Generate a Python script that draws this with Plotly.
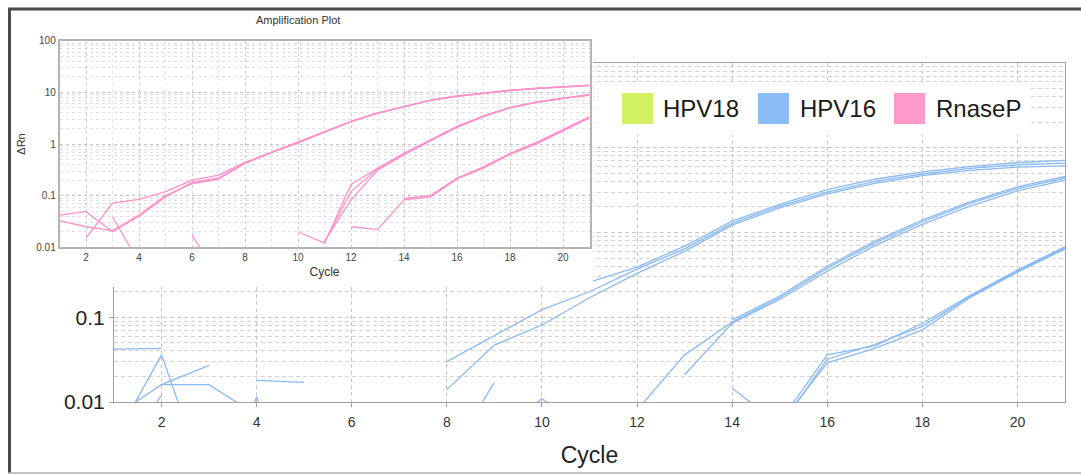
import plotly.graph_objects as go

W, H = 1081, 475
N = None

cycles = list(range(1, 22))

# ---- HPV16 (main chart) ΔRn values per cycle 1..21 ----
hpv16_a = [N, N, N, N, N, N, N, 0.030, 0.061, 0.123, 0.20, 0.37, 0.64, 1.28, 2.05, 3.0, 4.0, 4.9, 5.7, 6.3, 6.6]
hpv16_b = [N, N, N, N, N, N, N, 0.014, 0.047, 0.081, 0.17, 0.33, 0.60, 1.22, 1.95, 2.85, 3.8, 4.7, 5.4, 5.9, 6.1]
hpv16_c = [N, N, N, N, N, N, N, N, N, N, 0.26, 0.39, 0.69, 1.36, 2.15, 3.2, 4.25, 5.2, 6.0, 6.7, 7.1]
hpv16_d = [N, N, N, N, N, N, N, N, N, N, N, 0.008, 0.036, 0.088, 0.17, 0.38, 0.75, 1.33, 2.2, 3.3, 4.4]
hpv16_e = [N, N, N, N, N, N, N, N, N, N, N, N, 0.021, 0.085, 0.162, 0.35, 0.70, 1.25, 2.05, 3.1, 4.15]
hpv16_f = [N, N, N, N, N, N, N, N, N, N, N, N, N, 0.093, 0.178, 0.40, 0.79, 1.40, 2.3, 3.45, 4.6]
hpv16_g = [N, N, N, N, N, N, N, N, N, N, N, N, N, N, 0.0058, 0.036, 0.046, 0.085, 0.18, 0.36, 0.68]
hpv16_h = [N, N, N, N, N, N, N, N, N, N, N, N, N, N, 0.0055, 0.029, 0.043, 0.071, 0.17, 0.34, 0.64]
hpv16_i = [N, N, N, N, N, N, N, N, N, N, N, N, N, N, 0.0050, 0.032, 0.048, 0.078, 0.175, 0.35, 0.66]

# baseline noise fragments (HPV16)
hpv16_n1 = [0.042, 0.043, N, N, N, N, N, N, N, N, N, N, N, N, N, N, N, N, N, N, N]
hpv16_n2 = [0.0035, 0.036, 0.0009, N, N, N, N, N, N, N, N, N, N, N, N, N, N, N, N, N, N]
hpv16_n3 = [0.0068, 0.016, 0.027, N, N, N, N, N, N, N, N, N, N, N, N, N, N, N, N, N, N]
hpv16_n4 = [N, 0.016, 0.016, 0.007, N, N, N, N, N, N, N, N, N, N, N, N, N, N, N, N, N]
hpv16_n5 = [N, N, N, 0.018, 0.017, N, N, N, N, N, N, N, N, N, N, N, N, N, N, N, N]
hpv16_n6 = [N, N, N, N, N, N, N, 0.0021, 0.017, N, N, N, N, N, N, N, N, N, N, N, N]
hpv16_n7 = [N, N, N, N, N, N, N, N, N, N, N, N, N, 0.0145, 0.0054, N, N, N, N, N, N]
hpv16_n8 = [0.002, 0.012, N, N, N, N, N, N, N, N, N, N, N, N, N, N, N, N, N, N, N]
hpv16_n9 = [N, N, N, N, N, N, N, N, 0.004, 0.011, 0.004, N, N, N, N, N, N, N, N, N, N]
hpv16_n10 = [N, N, 0.0005, 0.0115, 0.0004, N, N, N, N, N, N, N, N, N, N, N, N, N, N, N, N]

# ---- RnaseP (inset chart) ----
rnp_a = [0.033, 0.025, 0.021, 0.042, 0.10, 0.17, 0.21, 0.42, 0.68, 1.05, 1.7, 2.7, 3.9, 5.3, 7.0, 8.4, 9.6, 10.8, 11.8, 12.6, 13.5]
rnp_b = [N, 0.015, 0.072, 0.085, 0.12, 0.20, 0.25, 0.44, 0.70, 1.08, 1.75, 2.75, 4.0, 5.4, 7.1, 8.5, 9.8, 11.0, 12.0, 12.8, 13.8]
rnp_c = [0.042, 0.049, 0.020, 0.040, 0.094, 0.18, 0.22, 0.43, 0.69, 1.06, 1.72, 2.72, 3.95, 5.35, 7.05, 8.45, 9.7, 10.9, 11.9, 12.7, 13.6]
rnp_d = [N, N, N, N, N, N, N, N, N, 0.020, 0.012, 0.165, 0.34, 0.66, 1.2, 2.2, 3.5, 5.1, 6.5, 7.7, 8.7]
rnp_e = [N, N, N, N, N, N, N, N, N, N, 0.013, 0.083, 0.31, 0.62, 1.15, 2.1, 3.4, 5.0, 6.4, 7.6, 8.9]
rnp_f = [N, N, N, N, N, N, N, N, N, N, 0.0125, 0.12, 0.33, 0.64, 1.18, 2.15, 3.45, 5.05, 6.45, 7.65, 9.1]
rnp_g = [N, N, N, N, N, N, N, N, N, N, N, 0.025, 0.022, 0.083, 0.095, 0.21, 0.34, 0.63, 1.0, 1.8, 3.2]
rnp_h = [N, N, N, N, N, N, N, N, N, N, N, N, N, 0.088, 0.10, 0.22, 0.36, 0.66, 1.08, 1.9, 3.4]
rnp_i = [N, N, N, N, N, N, N, N, N, N, N, N, N, N, 0.098, 0.215, 0.35, 0.645, 1.04, 1.85, 3.3]
rnp_n1 = [N, N, 0.039, 0.005, N, N, N, N, N, N, N, N, N, N, N, N, N, N, N, N, N]
rnp_n2 = [N, N, N, N, N, 0.017, 0.0028, N, N, N, N, N, N, N, N, N, N, N, N, N, N]

legend_names = ["HPV18", "HPV16", "RnaseP"]
legend_colors = ["#d2f163", "#8cbcf5", "#ff99cc"]

BLUE = "#8ab9f3"
PINK = "#ff92ca"


def px(x):
    return x / W


def py(y):
    return 1 - y / H


fig = go.Figure()

hpv16_series = [hpv16_a, hpv16_b, hpv16_c, hpv16_d, hpv16_e, hpv16_f, hpv16_g, hpv16_h, hpv16_i,
                hpv16_n1, hpv16_n2, hpv16_n3, hpv16_n4, hpv16_n5, hpv16_n6, hpv16_n7, hpv16_n8,
                hpv16_n9, hpv16_n10]
for s in hpv16_series:
    fig.add_trace(go.Scatter(x=cycles, y=s, mode="lines", line=dict(color=BLUE, width=1.3),
                             connectgaps=False, showlegend=False, name="HPV16",
                             xaxis="x", yaxis="y"))

# cover subplot (white box behind the inset)
fig.add_trace(go.Scatter(x=[None], y=[None], mode="lines", showlegend=False,
                         xaxis="x2", yaxis="y2", hoverinfo="skip"))

rnp_series = [rnp_a, rnp_b, rnp_c, rnp_d, rnp_e, rnp_f, rnp_g, rnp_h, rnp_i, rnp_n1, rnp_n2]
for s in rnp_series:
    fig.add_trace(go.Scatter(x=cycles, y=s, mode="lines", line=dict(color=PINK, width=1.3),
                             connectgaps=False, showlegend=False, name="RnaseP",
                             xaxis="x3", yaxis="y3"))

FONT = "Liberation Sans, Arial, sans-serif"

main_x_dom = [px(114), px(1065)]
main_y_dom = [py(402), py(63)]
cover_x_dom = [px(12), px(593)]
cover_y_dom = [py(287), py(10)]
inset_x_dom = [px(59.5), px(589.5)]
inset_y_dom = [py(247.3), py(40.7)]

shapes = []
# outer frame
shapes.append(dict(type="line", xref="paper", yref="paper", x0=px(8), x1=1, y0=py(9), y1=py(9),
                   line=dict(color="#4a4a4a", width=3), layer="above"))
shapes.append(dict(type="line", xref="paper", yref="paper", x0=px(9.5), x1=px(9.5), y0=py(8), y1=py(473),
                   line=dict(color="#4a4a4a", width=3), layer="above"))
shapes.append(dict(type="line", xref="paper", yref="paper", x0=px(8), x1=1, y0=py(473), y1=py(473),
                   line=dict(color="#b0b0b0", width=1.5), layer="above"))
# legend box
shapes.append(dict(type="rect", xref="paper", yref="paper", x0=px(598), x1=px(1030), y0=py(135), y1=py(83),
                   fillcolor="white", line=dict(width=0), layer="above"))
sq_x = [622, 758, 894]
text_x = [661, 798, 934]
annotations = []
for nm, col, sx, tx in zip(legend_names, legend_colors, sq_x, text_x):
    shapes.append(dict(type="rect", xref="paper", yref="paper", x0=px(sx), x1=px(sx + 31),
                       y0=py(124), y1=py(93), fillcolor=col, line=dict(width=0), layer="above"))
    annotations.append(dict(text=nm, xref="paper", yref="paper", x=px(tx), y=py(109),
                            xanchor="left", yanchor="middle", showarrow=False,
                            font=dict(family=FONT, size=24, color="#1a1a1a")))

annotations.append(dict(text="Amplification Plot", xref="paper", yref="paper", x=px(298), y=py(20),
                        xanchor="center", yanchor="middle", showarrow=False,
                        font=dict(family=FONT, size=11, color="#333333")))

fig.update_layout(
    width=W, height=H, autosize=False,
    margin=dict(l=0, r=0, t=0, b=0, pad=0, autoexpand=False),
    paper_bgcolor="white", plot_bgcolor="white",
    font=dict(family=FONT),
    showlegend=False,
    shapes=shapes,
    annotations=annotations,
    xaxis=dict(domain=main_x_dom, anchor="y", range=[1, 21], tick0=0, dtick=2, automargin=False,
               showline=True, mirror=True, linecolor="#a0a0a0", linewidth=1,
               ticks="outside", ticklen=4, tickcolor="#a0a0a0", ticklabelstandoff=3,
               showgrid=True, gridcolor="#c8c8c8", griddash="4px,3px", gridwidth=1,
               zeroline=False, tickfont=dict(size=14, color="#333333"),
               title=dict(text="Cycle", font=dict(size=23, color="#222222"), standoff=18)),
    yaxis=dict(domain=main_y_dom, anchor="x", type="log", range=[-2, 2], dtick=1, automargin=False,
               showline=True, mirror=True, linecolor="#a0a0a0", linewidth=1,
               ticks="outside", ticklen=4, tickcolor="#a0a0a0",
               showgrid=True, gridcolor="#c8c8c8", griddash="4px,3px", gridwidth=1,
               minor=dict(dtick="D1", showgrid=True, gridcolor="#d4d4d4", griddash="4px,3px", ticks=""),
               zeroline=False, tickfont=dict(size=21, color="#222222")),
    xaxis2=dict(domain=cover_x_dom, anchor="y2", visible=False, range=[0, 1], automargin=False),
    yaxis2=dict(domain=cover_y_dom, anchor="x2", visible=False, range=[0, 1], automargin=False),
    xaxis3=dict(domain=inset_x_dom, anchor="y3", range=[1, 21], tick0=0, dtick=2, automargin=False,
                showline=True, mirror=True, linecolor="#b4b4b4", linewidth=1.5,
                ticks="", showgrid=True, gridcolor="#cfcfcf", griddash="dot", gridwidth=1,
                minor=dict(dtick=1, showgrid=True, gridcolor="#e4e4e4", griddash="dot"),
                zeroline=False, tickfont=dict(size=10, color="#444444"),
                title=dict(text="Cycle", font=dict(size=12, color="#333333"), standoff=6)),
    yaxis3=dict(domain=inset_y_dom, anchor="x3", type="log", range=[-2, 2], dtick=1, automargin=False,
                showline=True, mirror=True, linecolor="#b4b4b4", linewidth=1.5,
                ticks="", showgrid=True, gridcolor="#c4c4c4", griddash="dot", gridwidth=1,
                minor=dict(dtick="D1", showgrid=True, gridcolor="#e0e0e0", griddash="dot"),
                zeroline=False, tickfont=dict(size=10, color="#444444"),
                title=dict(text="ΔRn", font=dict(size=11, color="#333333"), standoff=8)),
)

fig.write_html("out.html")
